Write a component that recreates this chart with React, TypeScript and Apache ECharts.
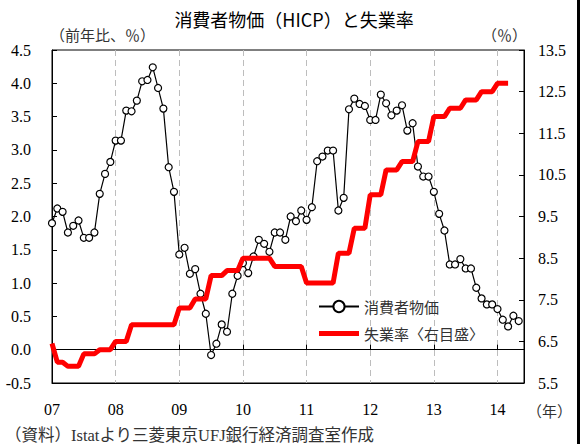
import React, { useEffect, useRef } from "react";
import * as echarts from "echarts";

// Year-over-year consumer prices (HICP), % — monthly, Jan 2007 – May 2014
const cpi2007 = [1.9, 2.12, 2.07, 1.76, 1.86, 1.94, 1.68, 1.68, 1.76, 2.34, 2.64, 2.82];
const cpi2008 = [3.14, 3.14, 3.59, 3.58, 3.74, 4.03, 4.05, 4.24, 3.93, 3.62, 2.74, 2.37];
const cpi2009 = [1.43, 1.53, 1.14, 1.21, 0.84, 0.54, -0.08, 0.09, 0.38, 0.27, 0.84, 1.11];
const cpi2010 = [1.3, 1.15, 1.4, 1.65, 1.59, 1.47, 1.76, 1.76, 1.65, 2.0, 1.93, 2.09];
const cpi2011 = [1.95, 2.14, 2.83, 2.9, 2.99, 2.99, 2.09, 2.28, 3.61, 3.77, 3.69, 3.66];
const cpi2012 = [3.45, 3.45, 3.83, 3.7, 3.52, 3.59, 3.67, 3.29, 3.4, 2.75, 2.6, 2.6];
const cpi2013 = [2.37, 2.04, 1.79, 1.28, 1.28, 1.36, 1.22, 1.22, 0.93, 0.77, 0.68, 0.68];
const cpi2014 = [0.61, 0.45, 0.35, 0.51, 0.43];

// Unemployment rate, % (right scale) — monthly, Jan 2007 – Mar 2014
const ur2007 = [6.45, 6.0, 6.0, 5.9, 5.9, 5.9, 6.2, 6.2, 6.2, 6.3, 6.3, 6.3];
const ur2008 = [6.5, 6.5, 6.5, 6.9, 6.9, 6.9, 6.9, 6.9, 6.9, 6.9, 6.9, 6.9];
const ur2009 = [7.3, 7.3, 7.3, 7.52, 7.52, 7.52, 8.08, 8.08, 8.08, 8.2, 8.2, 8.2];
const ur2010 = [8.5, 8.5, 8.5, 8.5, 8.5, 8.5, 8.3, 8.3, 8.3, 8.3, 8.3, 8.3];
const ur2011 = [7.9, 7.9, 7.9, 7.9, 7.9, 7.9, 8.62, 8.62, 8.62, 9.22, 9.22, 9.22];
const ur2012 = [10.02, 10.02, 10.02, 10.62, 10.62, 10.62, 10.82, 10.82, 10.82, 11.3, 11.3, 11.3];
const ur2013 = [11.9, 11.9, 11.9, 12.1, 12.1, 12.1, 12.3, 12.3, 12.3, 12.5, 12.5, 12.5];
const ur2014 = [12.7, 12.7, 12.7];

// Category axis: Jan 2007 – Jun 2014
const years = [2007, 2008, 2009, 2010, 2011, 2012, 2013, 2014];
const monthsInLastYear = 6;
const yearLabels = ["07", "08", "09", "10", "11", "12", "13", "14"];

const cpiName = "消費者物価";
const urName = "失業率〈右目盛〉";

const SERIF = "'Liberation Serif', 'Times New Roman', 'Noto Sans CJK JP', serif";
const JP = "'Noto Sans CJK JP', sans-serif";
const MIX = "'Liberation Serif', 'Noto Sans CJK JP', serif";

export default function App() {
  const ref = useRef<HTMLDivElement>(null);

  useEffect(() => {
    if (!ref.current) return;
    const chart = echarts.init(ref.current, null, { renderer: "svg" });

    const categories: string[] = [];
    years.forEach((y, yi) => {
      const n = yi === years.length - 1 ? monthsInLastYear : 12;
      for (let m = 1; m <= n; m++) categories.push(`${y}-${String(m).padStart(2, "0")}`);
    });
    const cpi = [...cpi2007, ...cpi2008, ...cpi2009, ...cpi2010, ...cpi2011, ...cpi2012, ...cpi2013, ...cpi2014];
    const ur = [...ur2007, ...ur2008, ...ur2009, ...ur2010, ...ur2011, ...ur2012, ...ur2013, ...ur2014];

    const isJan = (idx: number) => idx % 12 === 0;
    const yearLabel = (_v: string, idx: number) => yearLabels[Math.floor(idx / 12)] ?? "";

    const option: any = {
      animation: false,
      backgroundColor: "#fff",
      grid: {
        left: 52,
        right: 58,
        top: 50,
        bottom: 61,
        show: true,
        borderColor: "#000",
        borderWidth: 1,
        containLabel: false,
      },
      legend: {
        orient: "vertical",
        left: 313,
        top: 294,
        itemWidth: 40,
        itemHeight: 14,
        itemGap: 12,
        textStyle: { fontSize: 15, color: "#333", fontFamily: JP },
        data: [
          { name: cpiName },
          { name: urName, icon: "path://M0,0 L40,0 L40,5 L0,5 Z", itemStyle: { color: "#ff0000" } },
        ],
      },
      xAxis: [
        {
          type: "category",
          data: categories,
          boundaryGap: false,
          position: "bottom",
          axisLine: { show: true, onZero: false, lineStyle: { color: "#000", width: 1 } },
          axisTick: { show: false },
          axisLabel: {
            interval: (idx: number) => isJan(idx),
            formatter: yearLabel,
            margin: 18,
            fontSize: 16,
            color: "#000",
            fontFamily: SERIF,
          },
          splitLine: {
            show: true,
            interval: (idx: number) => isJan(idx) && idx !== 0,
            lineStyle: { color: "#bdbdbd", type: [6, 4], width: 1 },
          },
        },
        {
          type: "category",
          data: categories,
          boundaryGap: false,
          position: "bottom",
          axisLine: { show: true, onZero: true, onZeroAxisIndex: 0, lineStyle: { color: "#000", width: 1 } },
          axisTick: {
            show: true,
            inside: true,
            length: 5,
            interval: (idx: number) => isJan(idx),
            lineStyle: { color: "#000" },
          },
          axisLabel: { show: false },
          splitLine: { show: false },
        },
      ],
      yAxis: [
        {
          type: "value",
          min: -0.5,
          max: 4.5,
          interval: 0.5,
          position: "left",
          axisLine: { show: true, lineStyle: { color: "#000", width: 1 } },
          axisTick: { show: true, inside: true, length: 5, lineStyle: { color: "#000" } },
          axisLabel: {
            formatter: (v: number) => v.toFixed(1),
            margin: 21,
            fontSize: 16,
            color: "#000",
            fontFamily: SERIF,
          },
          splitLine: { show: false },
        },
        {
          type: "value",
          min: 5.5,
          max: 13.5,
          interval: 1,
          position: "right",
          axisLine: { show: true, lineStyle: { color: "#000", width: 1 } },
          axisTick: { show: true, inside: true, length: 5, lineStyle: { color: "#000" } },
          axisLabel: {
            formatter: (v: number) => v.toFixed(1),
            margin: 14,
            fontSize: 16,
            color: "#000",
            fontFamily: SERIF,
          },
          splitLine: { show: false },
        },
      ],
      series: [
        {
          name: cpiName,
          type: "line",
          xAxisIndex: 0,
          yAxisIndex: 0,
          data: cpi,
          symbol: "circle",
          symbolSize: 7,
          showSymbol: true,
          showAllSymbol: true,
          itemStyle: { color: "#fff", borderColor: "#000", borderWidth: 1.2 },
          lineStyle: { color: "#000", width: 1.2 },
          z: 2,
        },
        {
          name: urName,
          type: "line",
          xAxisIndex: 0,
          yAxisIndex: 1,
          data: ur,
          symbol: "none",
          showSymbol: false,
          itemStyle: { color: "#ff0000" },
          lineStyle: { color: "#ff0000", width: 5 },
          z: 3,
        },
      ],
      graphic: [
        {
          type: "text",
          x: 294,
          y: 19,
          style: {
            text: "消費者物価（HICP）と失業率",
            fontSize: 18,
            fontFamily: JP,
            fill: "#000",
            align: "center",
            verticalAlign: "middle",
          },
        },
        {
          type: "text",
          x: 50,
          y: 34,
          style: {
            text: "（前年比、％）",
            fontSize: 15,
            fontFamily: JP,
            fill: "#333",
            align: "left",
            verticalAlign: "middle",
          },
        },
        {
          type: "text",
          x: 527,
          y: 34,
          style: {
            text: "（％）",
            fontSize: 15,
            fontFamily: JP,
            fill: "#333",
            align: "right",
            verticalAlign: "middle",
          },
        },
        {
          type: "text",
          x: 527,
          y: 410,
          style: {
            text: "（年）",
            fontSize: 15,
            fontFamily: JP,
            fill: "#333",
            align: "left",
            verticalAlign: "middle",
          },
        },
        {
          type: "text",
          x: 5,
          y: 435,
          style: {
            text: "（資料）Istatより三菱東京UFJ銀行経済調査室作成",
            fontSize: 16.5,
            fontFamily: MIX,
            fill: "#333",
            align: "left",
            verticalAlign: "middle",
          },
        },
        {
          type: "rect",
          shape: { x: 577, y: 0, width: 3, height: 444 },
          style: { fill: "#000" },
        },
      ],
    };

    chart.setOption(option);
    return () => chart.dispose();
  }, []);

  return (
    <div
      ref={ref}
      style={{ position: "absolute", left: 0, top: 0, width: 582, height: 444, background: "#fff" }}
    />
  );
}
